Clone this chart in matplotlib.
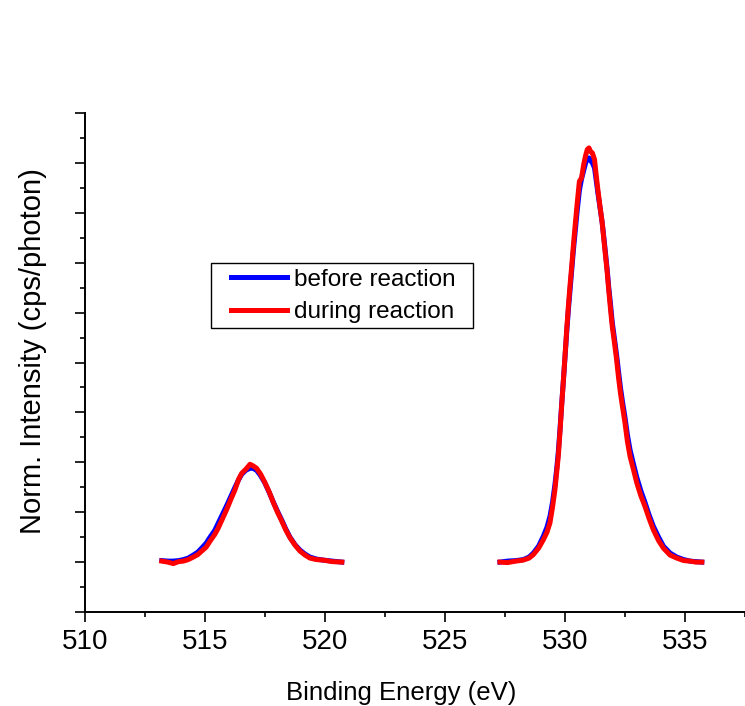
import numpy as np
import matplotlib.pyplot as plt
from matplotlib.ticker import MultipleLocator, NullFormatter
from matplotlib.patches import Rectangle

plt.rcParams['font.family'] = ['Liberation Sans', 'DejaVu Sans']

# spectra (y in tick units, baseline = 0)
x_low = [513.2, 513.45, 513.68, 513.9, 514.1, 514.3, 514.51, 514.7, 514.86, 515.05,
         515.21, 515.4, 515.55, 515.72, 515.9, 516.08, 516.25, 516.4, 516.53, 516.7,
         516.875, 517.0, 517.15, 517.32, 517.5, 517.68, 517.85, 518.02, 518.2, 518.37,
         518.54, 518.75, 518.96, 519.17, 519.375, 519.65, 519.93, 520.3, 520.7]
before_low = [0.03, 0.02, 0.02, 0.03, 0.05, 0.08, 0.14, 0.2, 0.28, 0.38,
              0.5, 0.63, 0.78, 0.95, 1.13, 1.32, 1.5, 1.65, 1.76, 1.84,
              1.88, 1.88, 1.84, 1.73, 1.58, 1.39, 1.2, 1.02, 0.84, 0.66,
              0.5, 0.35, 0.24, 0.16, 0.1, 0.06, 0.04, 0.02, 0.0]
during_low = [0.02, 0.0, -0.03, 0.01, 0.02, 0.05, 0.1, 0.15, 0.22, 0.3,
              0.42, 0.55, 0.68, 0.86, 1.05, 1.26, 1.45, 1.66, 1.78, 1.86,
              1.96, 1.93, 1.88, 1.76, 1.59, 1.4, 1.19, 1.0, 0.82, 0.64,
              0.49, 0.34, 0.22, 0.14, 0.08, 0.05, 0.04, 0.01, 0.0]

x_high = [527.29, 527.6, 527.95, 528.26, 528.5, 528.68, 528.9, 529.10, 529.25, 529.375,
          529.48, 529.58, 529.65, 529.72, 529.79, 529.86, 529.93, 530.0, 530.07, 530.14,
          530.21, 530.28, 530.35, 530.42, 530.51, 530.6, 530.69, 530.78, 530.86, 530.93,
          531.0, 531.06, 531.14, 531.23, 531.3, 531.37, 531.46, 531.55, 531.62, 531.69,
          531.76, 531.82, 531.9, 531.97, 532.06, 532.15, 532.23, 532.31, 532.4, 532.5,
          532.6, 532.71, 532.85, 532.99, 533.16, 533.33, 533.5, 533.68, 533.9, 534.1,
          534.38, 534.66, 534.95, 535.21, 535.45, 535.7]
before_high = [0.0, 0.02, 0.03, 0.05, 0.1, 0.18, 0.32, 0.52, 0.7, 0.92,
               1.2, 1.55, 1.85, 2.2, 2.65, 3.15, 3.62, 4.1, 4.6, 5.05,
               5.45, 5.85, 6.25, 6.6, 7.05, 7.45, 7.68, 7.85, 8.0, 8.08,
               8.1, 8.05, 8.0, 7.9, 7.65, 7.4, 7.1, 6.8, 6.5, 6.18,
               5.85, 5.52, 5.15, 4.8, 4.48, 4.15, 3.82, 3.5, 3.2, 2.9,
               2.55, 2.25, 1.97, 1.7, 1.43, 1.2, 0.95, 0.72, 0.5, 0.32,
               0.18, 0.1, 0.05, 0.02, 0.01, 0.0]
during_high = [0.0, -0.01, 0.02, 0.04, 0.08, 0.15, 0.28, 0.45, 0.6, 0.79,
               1.1, 1.45, 1.78, 2.12, 2.6, 3.13, 3.62, 4.13, 4.65, 5.13,
               5.55, 5.93, 6.35, 6.73, 7.2, 7.63, 7.7, 7.97, 8.15, 8.27,
               8.3, 8.23, 8.2, 8.07, 7.75, 7.46, 7.12, 6.80, 6.46, 6.13,
               5.8, 5.46, 5.05, 4.72, 4.4, 4.06, 3.7, 3.39, 3.1, 2.79,
               2.42, 2.12, 1.86, 1.59, 1.33, 1.12, 0.88, 0.65, 0.43, 0.28,
               0.14, 0.08, 0.03, 0.02, 0.0, 0.0]

fig = plt.figure(figsize=(7.45, 7.06), dpi=100)
ax = fig.add_axes([85 / 745, 94 / 706, 660 / 745, 499 / 706])

lw = 3.6
ax.plot(x_low, before_low, color='#0000ff', lw=lw, label='before reaction')
ax.plot(x_high, before_high, color='#0000ff', lw=lw)
ax.plot(x_low, during_low, color='#ff0000', lw=lw, label='during reaction')
ax.plot(x_high, during_high, color='#ff0000', lw=lw)

ax.set_xlim(510, 537.5)
ax.set_ylim(-1, 9)
ax.xaxis.set_major_locator(MultipleLocator(5))
ax.xaxis.set_minor_locator(MultipleLocator(2.5))
ax.yaxis.set_major_locator(MultipleLocator(1))
ax.yaxis.set_minor_locator(MultipleLocator(0.5))
ax.yaxis.set_major_formatter(NullFormatter())

for s in ['top', 'right']:
    ax.spines[s].set_visible(False)
for s in ['left', 'bottom']:
    ax.spines[s].set_linewidth(1.4)

ax.tick_params(which='major', direction='out', length=7, width=1.2, labelsize=20)
ax.tick_params(which='minor', direction='out', length=3.6, width=1.2)
ax.tick_params(axis='x', pad=5)

ax.set_xlabel('Binding Energy (eV)', fontsize=18.5, labelpad=19)
ax.xaxis.label.set_x(0.479)
ax.set_ylabel('Norm. Intensity (cps/photon)', fontsize=21, labelpad=17)
ax.yaxis.label.set_y(0.522)

# legend: text without frame, box drawn separately
ax.legend(loc='upper left', bbox_to_anchor=(0.2212, 0.688), borderaxespad=0,
          borderpad=0, frameon=False, fontsize=17.5, handlelength=2.3,
          handletextpad=0.29, labelspacing=0.43)
ax.add_patch(Rectangle((0.1909, 0.5691), 0.397, 0.1303, transform=ax.transAxes,
                       fill=False, edgecolor='black', lw=1.0, clip_on=False))

fig.savefig('out.png', dpi=100)
